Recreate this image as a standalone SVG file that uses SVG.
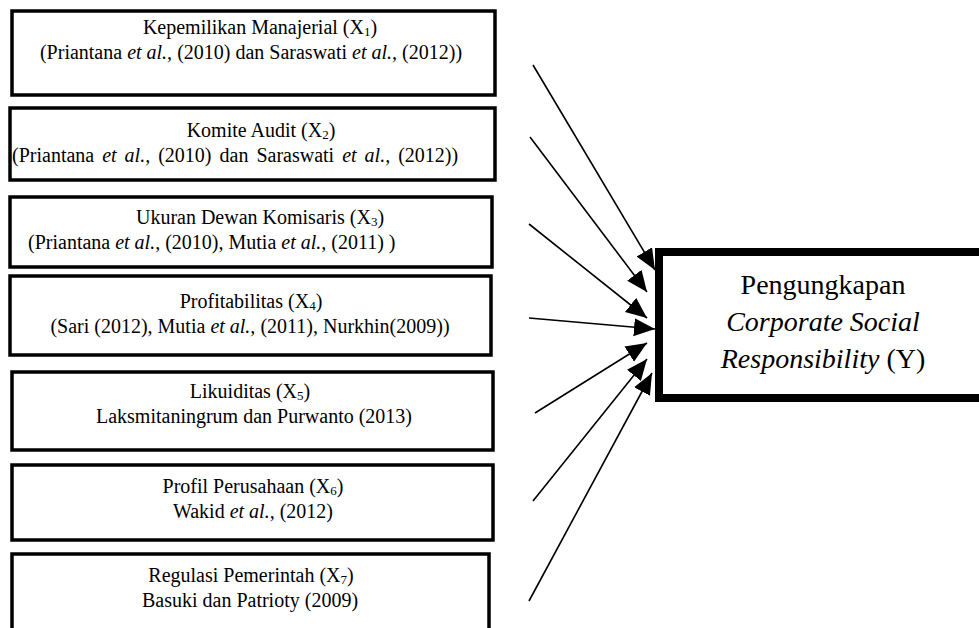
<svg xmlns="http://www.w3.org/2000/svg" width="979" height="628" viewBox="0 0 979 628">
<defs>
<style>
.box{fill:#fff;stroke:#000;stroke-width:3.5}
.tbox{fill:#fff;stroke:#000;stroke-width:8}
.t{font-family:"Liberation Serif","Times New Roman",serif;font-size:20px;fill:#000;text-anchor:middle}
.ts{font-family:"Liberation Serif","Times New Roman",serif;font-size:20px;fill:#000}
.big{font-family:"Liberation Serif","Times New Roman",serif;font-size:28px;fill:#000;text-anchor:middle}
.i{font-style:italic}
.sub{font-size:13px}
.conn line{stroke:#000;stroke-width:1.6;marker-end:url(#ah)}
</style>
<marker id="ah" markerUnits="userSpaceOnUse" markerWidth="24" markerHeight="20" refX="21" refY="9" orient="auto">
<path d="M0,0 L21,9 L0,18 z" fill="#000"/>
</marker>
</defs>
<rect width="979" height="628" fill="#fff"/>
<g id="x1">
<rect class="box" x="12" y="11" width="483" height="84"/>
<text class="t" x="260" y="34">Kepemilikan Manajerial (X<tspan class="sub" dy="2">1</tspan><tspan dy="-2">)</tspan></text>
<text class="t" x="251" y="59">(Priantana <tspan class="i">et al.,</tspan> (2010) dan Saraswati <tspan class="i">et al.,</tspan> (2012))</text>
</g>
<g id="x2">
<rect class="box" x="10" y="108" width="485" height="72"/>
<text class="t" x="261" y="137">Komite Audit (X<tspan class="sub" dy="2">2</tspan><tspan dy="-2">)</tspan></text>
<text class="ts" x="12" y="162" word-spacing="3">(Priantana <tspan class="i">et al.,</tspan> (2010) dan Saraswati <tspan class="i">et al.,</tspan> (2012))</text>
</g>
<g id="x3">
<rect class="box" x="10" y="197" width="482" height="70"/>
<text class="t" x="260" y="224">Ukuran Dewan Komisaris (X<tspan class="sub" dy="2">3</tspan><tspan dy="-2">)</tspan></text>
<text class="ts" x="28" y="249">(Priantana <tspan class="i">et al.,</tspan> (2010), Mutia <tspan class="i">et al.,</tspan> (2011) )</text>
</g>
<g id="x4">
<rect class="box" x="10" y="276" width="481" height="79"/>
<text class="t" x="251" y="308">Profitabilitas (X<tspan class="sub" dy="2">4</tspan><tspan dy="-2">)</tspan></text>
<text class="t" x="250" y="333">(Sari (2012), Mutia <tspan class="i">et al.,</tspan> (2011), Nurkhin(2009))</text>
</g>
<g id="x5">
<rect class="box" x="12" y="372" width="481" height="78"/>
<text class="t" x="250" y="398">Likuiditas (X<tspan class="sub" dy="2">5</tspan><tspan dy="-2">)</tspan></text>
<text class="t" x="254" y="423">Laksmitaningrum dan Purwanto (2013)</text>
</g>
<g id="x6">
<rect class="box" x="12" y="465" width="481" height="75"/>
<text class="t" x="253" y="493">Profil Perusahaan (X<tspan class="sub" dy="2">6</tspan><tspan dy="-2">)</tspan></text>
<text class="t" x="253" y="518">Wakid <tspan class="i">et al.,</tspan> (2012)</text>
</g>
<g id="x7">
<rect class="box" x="12" y="554" width="477" height="90"/>
<text class="t" x="251" y="582">Regulasi Pemerintah (X<tspan class="sub" dy="2">7</tspan><tspan dy="-2">)</tspan></text>
<text class="t" x="250" y="607">Basuki dan Patrioty (2009)</text>
</g>
<g id="y">
<rect class="tbox" x="659" y="252" width="340" height="146"/>
<text class="big" x="823" y="294">Pengungkapan</text>
<text class="big i" x="823" y="331">Corporate Social</text>
<text class="big" x="823" y="368"><tspan class="i">Responsibility</tspan> (Y)</text>
</g>
<g class="conn" id="connectors">
<line x1="533" y1="65" x2="655" y2="270"/>
<line x1="530" y1="137" x2="647" y2="292"/>
<line x1="529" y1="224" x2="647" y2="318"/>
<line x1="529" y1="318" x2="655" y2="329"/>
<line x1="535" y1="413" x2="647" y2="343"/>
<line x1="533" y1="501" x2="647" y2="359"/>
<line x1="529" y1="601" x2="652" y2="373"/>
</g>
</svg>
